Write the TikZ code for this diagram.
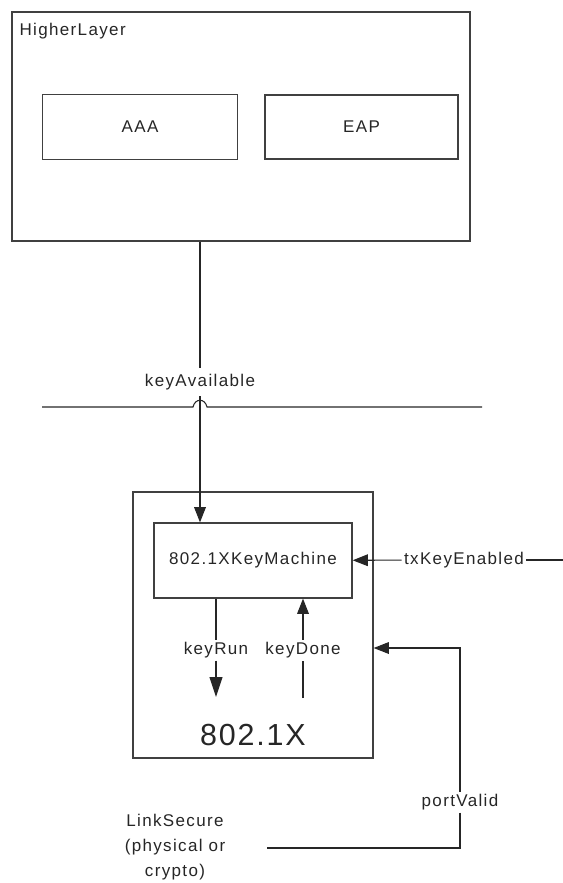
\documentclass[tikz,border=0pt]{standalone}
\usepackage{fontspec}
\newfontfamily\diafont{Liberation Sans}[LetterSpace=8]
\newfontfamily\bigdiafont{Liberation Sans}[LetterSpace=6]
\usetikzlibrary{arrows.meta, calc}

% one pixel of the original layout
\newcommand{\pxu}{0.03cm}

\tikzset{
  block/.style={draw=black!75, line width=1.1pt, fill=white},
  lbl/.style={font=\diafont\fontsize{14.5}{21.5}\selectfont, text=black!85, inner sep=2pt},
  wire/.style={draw=black!85, line width=0.9pt},
  sig/.style={wire, -{Triangle[length=13pt, width=10pt]}},
}

\begin{document}
\begin{tikzpicture}[x={(\pxu,0)}, y={(0,-\pxu)}]
\useasboundingbox (0,0) rectangle (563,883);

% Higher layer with its two blocks
\node[block, minimum width=458*\pxu, minimum height=229*\pxu] (higher) at (241,126.5) {};
\node[lbl, anchor=west] (higherlbl) at (17,31) {HigherLayer};
\node[block, lbl, minimum width=195*\pxu, minimum height=65*\pxu] (aaa) at (140,127) {AAA};
\node[block, lbl, minimum width=193*\pxu, minimum height=64*\pxu] (eap) at (361.5,127) {EAP};

% Layer boundary, hopping over the keyAvailable line
\coordinate (busL) at (42,407);
\coordinate (busR) at (482,407);
\draw[wire] (busL) -- (193,407) .. controls (195,398) and (205,398) .. (207,407) -- (busR);

% keyAvailable from the higher layer down to the key machine
\node[lbl, inner ysep=5pt] (keyavail) at (200,382) {keyAvailable};
\draw[wire] (higher.south -| keyavail.north) -- (keyavail.north);

% 802.1X entity and its key machine
\node[block, minimum width=240*\pxu, minimum height=266*\pxu] (dot1x) at (253,625) {};
\node[block, lbl, minimum width=198*\pxu, minimum height=75*\pxu] (km) at (253,560.5) {802.1XKeyMachine};
\node[lbl, font=\bigdiafont\fontsize{26}{30}\selectfont] (dot1xlbl) at (253,735) {802.1X};

\draw[sig] (keyavail.south) -- (keyavail.south |- km.north);

% txKeyEnabled comes in from the right
\node[lbl] (txen) at (464,560) {txKeyEnabled};
\coordinate (txin) at (563,560);
\draw[wire] (txin) -- (txen);
\draw[sig] (txen) -- (km);

% keyRun / keyDone
\node[lbl] (keyrun) at (216,650) {keyRun};
\coordinate (krend) at (216,697);
\draw[wire] (km.south -| keyrun) -- (keyrun);
\draw[wire, -{Triangle[length=17pt, width=11pt]}] (keyrun) -- (krend);

\node[lbl] (keydone) at (303,650) {keyDone};
\coordinate (kdstart) at (303,698);
\draw[wire] (kdstart) -- (keydone);
\draw[sig] (keydone) -- (keydone |- km.south);

% portValid from the secure link
\node[lbl] (portvalid) at (460,802) {portValid};
\coordinate (pvin) at ($(dot1x.east)+(0,23)$);
\coordinate (lsend) at (267,848);
\draw[sig] (portvalid.north) |- (pvin);
\draw[wire] (portvalid.south) |- (lsend);
\node[lbl, align=center] (linksec) at (175,847) {LinkSecure\\(physical or\\crypto)};

\end{tikzpicture}
\end{document}
